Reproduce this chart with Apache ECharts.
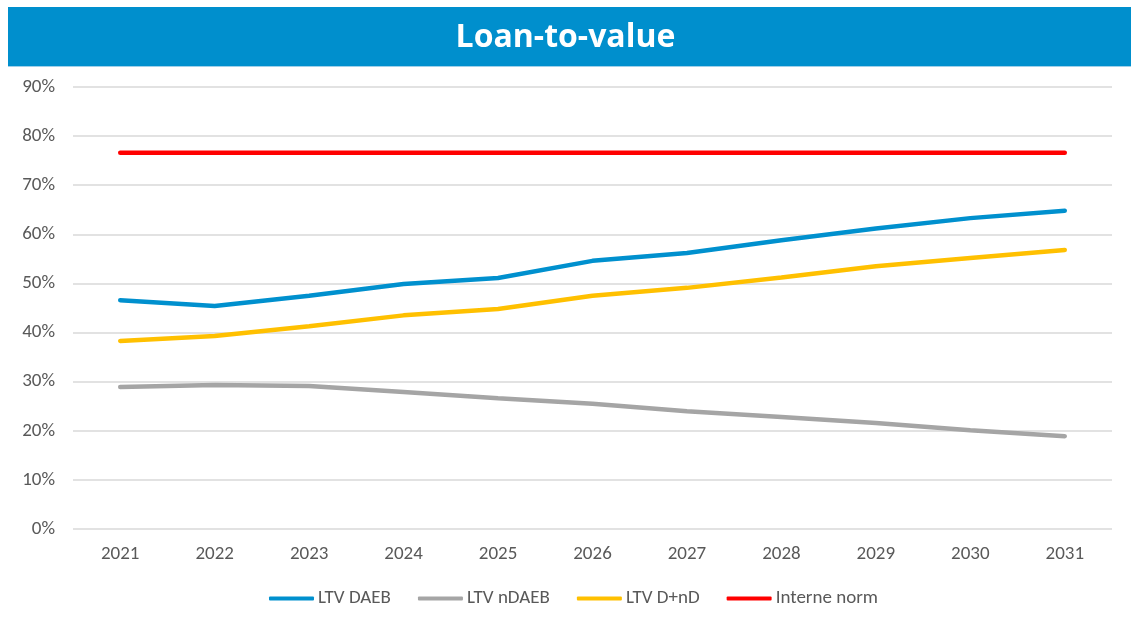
<!DOCTYPE html>
<html><head><meta charset="utf-8">
<script src="https://cdn.jsdelivr.net/npm/echarts@6/dist/echarts.min.js"></script>
<style>html,body{margin:0;padding:0;background:#fff}#c{width:1131px;height:622px}</style>
</head><body><div id="c"></div>
<script>
const categories = ['2021','2022','2023','2024','2025','2026','2027','2028','2029','2030','2031'];
const ltvDAEB  = [46.6, 45.4, 47.5, 49.9, 51.1, 54.6, 56.2, 58.8, 61.2, 63.3, 64.8];
const ltvNDAEB = [28.9, 29.3, 29.1, 27.9, 26.6, 25.5, 24.0, 22.8, 21.6, 20.1, 18.9];
const ltvDnD   = [38.3, 39.3, 41.3, 43.5, 44.8, 47.5, 49.1, 51.2, 53.5, 55.2, 56.8];
const interneNorm = [76.6, 76.6, 76.6, 76.6, 76.6, 76.6, 76.6, 76.6, 76.6, 76.6, 76.6];
const seriesNames = ['LTV DAEB','LTV nDAEB','LTV D+nD','Interne norm'];
const colors = ['#0090CE','#A5A5A5','#FFC000','#FF0000'];

const chart = echarts.init(document.getElementById('c'));
const font = 'Carlito, Calibri, "Liberation Sans", sans-serif';
const data = [ltvDAEB, ltvNDAEB, ltvDnD, interneNorm];
chart.setOption({
  animation:false,
  graphic:[
    {type:'rect', shape:{x:8,y:7,width:1123,height:59}, style:{fill:'#008FCD'}},
    {type:'rect', shape:{x:8,y:66,width:1123,height:1}, style:{fill:'#9FD0EA'}},
    {type:'text', left:'center', top:22, style:{text:'Loan-to-value', fill:'#fff', font:'bold 32px "Open Sans", sans-serif'}}
  ],
  grid:{left:73, right:19, top:87, bottom:93},
  xAxis:{type:'category', data:categories, boundaryGap:true,
    axisLine:{show:false}, axisTick:{show:false},
    axisLabel:{color:'#595959', fontSize:19, fontFamily:font, margin:16}},
  yAxis:{type:'value', min:0, max:90, interval:10,
    axisLabel:{formatter:'{value}%', color:'#595959', fontSize:19, fontFamily:font, margin:18},
    splitLine:{lineStyle:{color:'#D9D9D9', width:1.5}}},
  legend:{bottom:9, left:264, itemWidth:45, itemHeight:4, itemGap:27,
    icon:'roundRect',
    textStyle:{color:'#595959', fontSize:19, fontFamily:font, padding:[0,0,0,-1]},
    data:seriesNames},
  series: seriesNames.map((n,i)=>({
    name:n, type:'line', data:data[i], symbol:'none',
    lineStyle:{color:colors[i], width:4.5, cap:'round'}, itemStyle:{color:colors[i]}
  }))
});
</script></body></html>
